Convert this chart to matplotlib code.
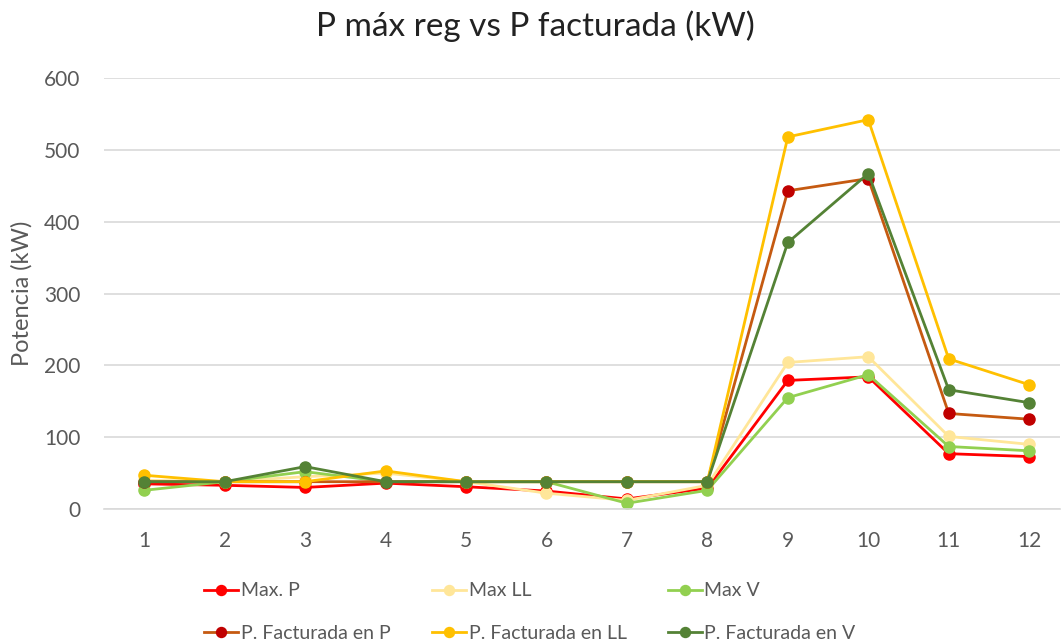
import matplotlib.pyplot as plt

# month index on the category axis
months = [1, 2, 3, 4, 5, 6, 7, 8, 9, 10, 11, 12]

# series values (kW)
max_p = [35, 33, 30, 36, 31, 25, 14, 29, 179, 184, 77, 73]
max_ll = [40, 38, 45, 50, 38, 22, 12, 33, 204, 212, 101, 90]
max_v = [26, 38, 52, 38, 38, 38, 8, 26, 155, 187, 87, 81]
fact_p = [38, 38, 38, 38, 38, 38, 38, 38, 443, 460, 133, 125]
fact_ll = [47, 38, 38, 53, 38, 38, 38, 38, 518, 542, 209, 173]
fact_v = [38, 38, 59, 38, 38, 38, 38, 38, 371, 467, 166, 148]

labels = ["Max. P", "Max LL", "Max V",
          "P. Facturada en P", "P. Facturada en LL", "P. Facturada en V"]
series = [max_p, max_ll, max_v, fact_p, fact_ll, fact_v]
line_colors = ["#FF0000", "#FFE699", "#92D050", "#C55A11", "#FFC000", "#548235"]
marker_colors = ["#FF0000", "#FFE699", "#92D050", "#C00000", "#FFC000", "#548235"]

plt.rcParams['font.family'] = ['Lato', 'DejaVu Sans']

fig = plt.figure(figsize=(10.61, 6.44), dpi=100)
ax = fig.add_axes([104 / 1061, 1 - 509 / 644, 956 / 1061, 431 / 644])

lines = []
for vals, lab, lc, mc in zip(series, labels, line_colors, marker_colors):
    ln, = ax.plot(months, vals, color=lc, linewidth=2.0, marker='o', markersize=8,
                  markerfacecolor=mc, markeredgecolor=mc, label=lab)
    lines.append(ln)

ax.set_xlim(0.5, 12.383)
ax.set_ylim(0, 600)
ax.set_xticks(months)
ax.set_yticks(range(0, 601, 100))
ax.grid(axis='y', color='#D9D9D9', linewidth=1.2)
ax.set_axisbelow(True)
for side in ['top', 'right', 'left']:
    ax.spines[side].set_visible(False)
ax.spines['bottom'].set_color('#D9D9D9')
ax.spines['bottom'].set_linewidth(1.2)
ax.tick_params(length=0, labelsize=15, colors='#595959', pad=16)
ax.tick_params(axis='y', pad=17)

ax.set_ylabel("Potencia (kW)", fontsize=17, color='#595959')
ax.yaxis.set_label_coords(-(104 - 33) / 956, 0.5)
fig.text(535 / 1061, 1 - 26 / 644, "P máx reg vs P facturada (kW)",
         fontsize=24, color='#222222', ha='center', va='center')

# matplotlib fills legend columns first, so reorder to read row by row
order = [0, 3, 1, 4, 2, 5]
fig.legend([lines[i] for i in order], [labels[i] for i in order],
           loc='center', bbox_to_anchor=(530 / 1061, 1 - 612 / 644), ncol=3,
           frameon=False, fontsize=14, labelcolor='#595959',
           handlelength=1.75, columnspacing=2.1, handletextpad=0.15,
           labelspacing=1.3, markerscale=0.9)

fig.savefig("out.png", dpi=100)
